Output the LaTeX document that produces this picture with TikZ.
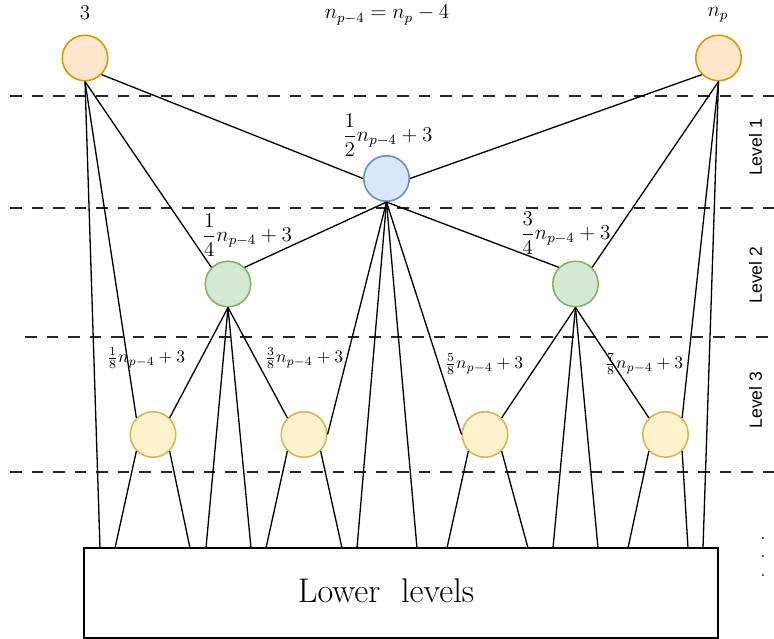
\documentclass[tikz,border=0pt]{standalone}
\usepackage{amsmath}
\usepackage{fontspec}
\newfontfamily\lvlfont{Liberation Sans}
\usepackage{tikz}
\usetikzlibrary{positioning}

\definecolor{topfill}{HTML}{FFE6CC}
\definecolor{topline}{HTML}{D79B00}
\definecolor{midfill}{HTML}{DAE8FC}
\definecolor{midline}{HTML}{6C8EBF}
\definecolor{secfill}{HTML}{D5E8D4}
\definecolor{secline}{HTML}{82B366}
\definecolor{thdfill}{HTML}{FFF2CC}
\definecolor{thdline}{HTML}{D6B656}

\begin{document}
\begin{tikzpicture}[x=0.2mm, y=-0.2mm,
  vert/.style={circle, draw, line width=0.9pt, minimum size=9.1mm, inner sep=0pt},
  topv/.style={vert, draw=topline, fill=topfill},
  midv/.style={vert, draw=midline, fill=midfill},
  secv/.style={vert, draw=secline, fill=secfill},
  thdv/.style={vert, draw=thdline, fill=thdfill},
  sep/.style={line width=0.85pt, black!85, dash pattern=on 2.3mm off 2mm},
  lvl/.style={rotate=90, font=\lvlfont},
  big/.style={font=\large, inner sep=0pt},
  small/.style={inner sep=0pt},
  link/.style={line width=0.75pt},
]
\useasboundingbox (0,0) rectangle (774,639);

\draw[sep] (10,96) -- (774,96);
\draw[sep] (10,208) -- (774,208);
\draw[sep] (25,337) -- (774,337);
\draw[sep] (10,472) -- (774,472);

\node[topv] (o1) at (85,58) {};
\node[topv] (o2) at (718.5,58) {};
\node[midv] (mid) at (386.5,178.5) {};
\node[secv] (g1) at (228,284) {};
\node[secv] (g2) at (575.5,284) {};
\foreach \x/\n in {153/1,304/2,485/3,665.5/4}{
  \node[thdv] (y\n) at (\x,434.5) {};
}
\node[draw, line width=0.75pt, minimum width=12.68cm, minimum height=1.8cm] (low) at (401,593) {};
\node[font=\fontsize{19.5}{22}\selectfont, inner sep=0pt] (lowtxt) at (386,591) {Lower~~levels};
\foreach \x [count=\i] in {100,115,190,206,251,266,342,357,417,447,528,553,598,628,688,703}{
  \coordinate (t\i) at (\x,548);
}

\node[big] (lbl3) at (85,13) {$3$};
\node[big] (lbleq) at (387,15) {$n_{p-4}=n_p-4$};
\node[big] (lblnp) at (718,15) {$n_p$};
\node[big] (lblhalf) at (387.5,135) {$\dfrac{1}{2}n_{p-4}+3$};
\node[big] (lblq1) at (247,235) {$\dfrac{1}{4}n_{p-4}+3$};
\node[big] (lblq3) at (565.5,233) {$\dfrac{3}{4}n_{p-4}+3$};
\node[small] (lble1) at (146,358.5) {$\frac{1}{8}n_{p-4}+3$};
\node[small] (lble3) at (304,358.5) {$\frac{3}{8}n_{p-4}+3$};
\node[small] (lble5) at (484,364) {$\frac{5}{8}n_{p-4}+3$};
\node[small] (lble7) at (644,364) {$\frac{7}{8}n_{p-4}+3$};

\node[lvl] (lev1) at (755.5,147.5) {Level 1};
\node[lvl] (lev2) at (755.5,275) {Level 2};
\node[lvl] (lev3) at (755.5,400) {Level 3};
\node[align=center, inner sep=0pt, font=\fontsize{10}{10.6}\selectfont] (dots) at (763,557) {.\\.\\.};

\draw[link] (o1.south east) -- (mid.west);
\draw[link] (o2.south west) -- (mid.east);
\draw[link] (o1.south) -- (g1.north west);
\draw[link] (o1.south) -- (y1.north west);
\draw[link] (o1.south) -- (t1);
\draw[link] (o2.south) -- (g2.north east);
\draw[link] (o2.south) -- (y4.north east);
\draw[link] (o2.south) -- (t16);
\draw[link] (mid.south) -- (g1.north east);
\draw[link] (mid.south) -- (g2.north west);
\draw[link] (mid.south) -- (y2.east);
\draw[link] (mid.south) -- (y3.west);
\draw[link] (mid.south) -- (t8);
\draw[link] (mid.south) -- (t9);
\draw[link] (g1.south) -- (y1.north east);
\draw[link] (g1.south) -- (y2.north west);
\draw[link] (g1.south) -- (t4);
\draw[link] (g1.south) -- (t5);
\draw[link] (g2.south) -- (y3.north east);
\draw[link] (g2.south) -- (y4.north west);
\draw[link] (g2.south) -- (t12);
\draw[link] (g2.south) -- (t13);
\draw[link] (y1.south west) -- (t2);
\draw[link] (y1.south east) -- (t3);
\draw[link] (y2.south west) -- (t6);
\draw[link] (y2.south east) -- (t7);
\draw[link] (y3.south west) -- (t10);
\draw[link] (y3.south east) -- (t11);
\draw[link] (y4.south west) -- (t14);
\draw[link] (y4.south east) -- (t15);
\end{tikzpicture}
\end{document}
